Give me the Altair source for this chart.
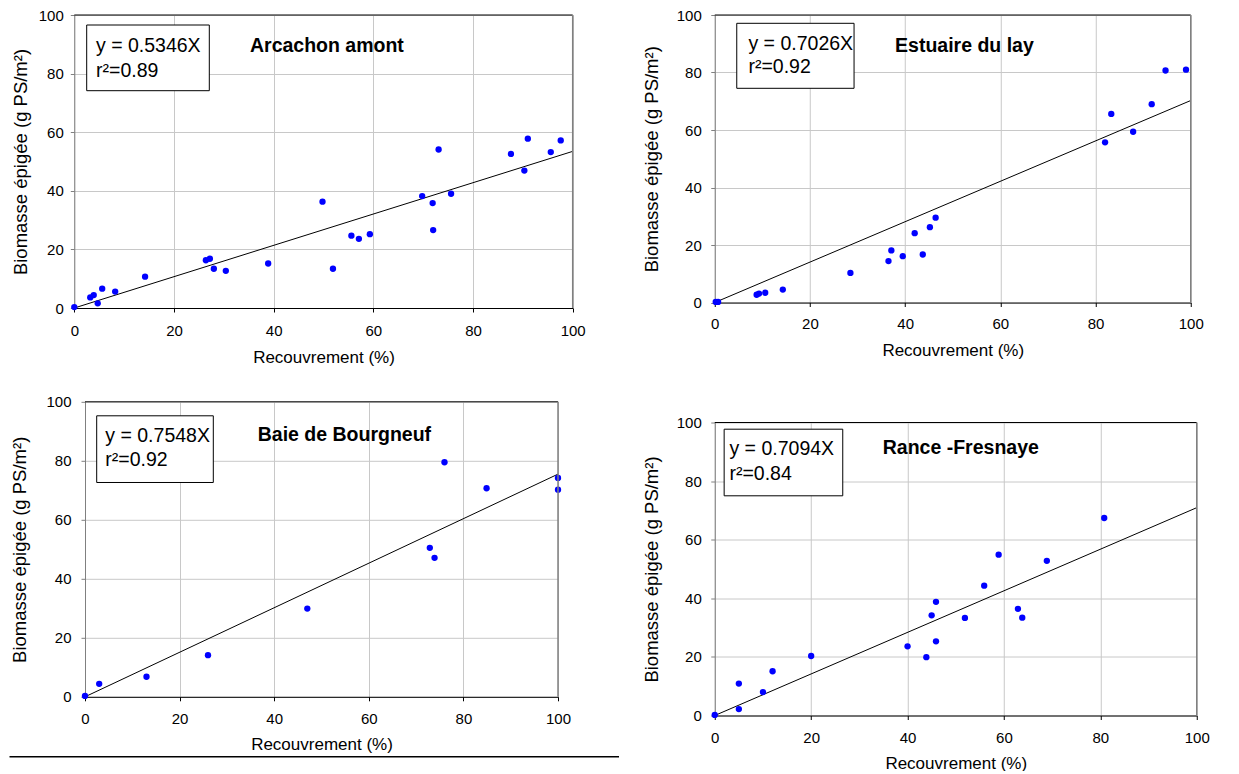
import altair as alt
import pandas as pd

FONT = "Liberation Sans"

# ---------------- data ----------------
arc_x = [0, 3.2, 3.9, 4.7, 5.6, 8.2, 14.2, 26.4, 27.2, 28.0, 30.4, 38.9, 49.8, 51.9, 55.6,
         57.1, 59.3, 69.8, 71.9, 72.0, 73.1, 75.6, 87.6, 90.3, 91.0, 95.6, 97.6]
arc_y = [0.3, 3.6, 4.4, 1.6, 6.6, 5.6, 10.7, 16.3, 16.8, 13.4, 12.7, 15.2, 36.3, 13.4, 24.7,
         23.6, 25.2, 38.2, 35.8, 26.6, 54.1, 39.0, 52.6, 46.9, 57.8, 53.2, 57.2]

lay_x = [0.2, 0.7, 8.8, 9.3, 10.6, 14.3, 28.5, 36.5, 37.1, 39.5, 42.0, 43.7, 45.2, 46.4,
         82.0, 83.3, 87.9, 91.8, 94.7, 99.0]
lay_y = [0.2, 0.2, 2.7, 3.1, 3.4, 4.5, 10.3, 14.4, 18.1, 16.1, 24.1, 16.7, 26.2, 29.5,
         55.7, 65.6, 59.4, 69.0, 80.7, 81.0]

bou_x = [0, 3.0, 13.0, 26.0, 47.0, 72.9, 73.9, 76.0, 84.9, 100, 100]
bou_y = [0.3, 4.4, 6.8, 14.1, 29.9, 50.5, 47.1, 79.5, 70.7, 74.2, 70.2]

ran_x = [0, 5.0, 5.0, 10.0, 12.0, 20.0, 40.0, 43.9, 45.0, 45.9, 45.9, 51.9, 55.9, 58.9,
         62.9, 63.8, 68.9, 80.8]
ran_y = [0.2, 10.9, 2.2, 8.0, 15.1, 20.3, 23.6, 19.9, 34.2, 38.8, 25.3, 33.3, 44.3, 54.9,
         36.4, 33.4, 52.8, 67.4]

names = ["Arcachon amont", "Estuaire du lay", "Baie de Bourgneuf", "Rance -Fresnaye"]
slopes = [0.5346, 0.7026, 0.7548, 0.7094]
r2s = ["0.89", "0.92", "0.92", "0.84"]
ticks = [0, 20, 40, 60, 80, 100]
fit_x = [0, 100]

# ---------------- layout (pixels, relative to each plot area) ----------------
layout = [
    dict(dx=-10.7, w=498.4, h=293, ylp=7, ytp=8, xlp=11.5, xtp=11,
         box=(12.4, 10, 135, 75.7), eqx=21.7, eqy=(37, 61.7), tx=175.7, ty=36.7),
    dict(dx=0, w=476, h=287.5, ylp=9.5, ytp=14.5, xlp=10, xtp=11,
         box=(22, 8.3, 139.3, 73.3), eqx=33.7, eqy=(35, 57.7), tx=180.3, ty=36.7),
    dict(dx=0, w=473, h=295, ylp=10, ytp=16, xlp=10.5, xtp=10.5,
         box=(11.7, 14, 128.3, 80.7), eqx=20.3, eqy=(40, 64), tx=172.7, ty=39.4),
    dict(dx=0, w=482, h=293, ylp=9.5, ytp=14.5, xlp=11, xtp=9.5,
         box=(9.4, 6.7, 128, 73.3), eqx=14.7, eqy=(32.7, 57.7), tx=168, ty=31),
]

one = pd.DataFrame({"k": [0]})


def panel(i, xs, ys, sep=False):
    L = layout[i]
    dx, w, h = L["dx"], L["w"], L["h"]
    df = pd.DataFrame({"x": xs, "y": ys})
    fit = pd.DataFrame({"x": fit_x})
    xs_ = alt.Scale(domain=[0, 100], nice=False, range=[dx, dx + w])
    ys_ = alt.Scale(domain=[0, 100], nice=False)
    xaxis = alt.Axis(values=ticks, title="Recouvrement (%)", grid=True,
                     gridColor="#c8c8c8", gridWidth=1, domainColor="black",
                     tickColor="black", tickSize=4, labelPadding=L["xlp"],
                     titlePadding=L["xtp"], labelFontSize=15, titleFontSize=17,
                     titleFontWeight="normal", labelFont=FONT, titleFont=FONT,
                     labelColor="black", titleColor="black", labelFlush=False)
    yaxis = alt.Axis(values=ticks, title="Biomasse épigée (g PS/m²)", grid=True,
                     gridColor="#c8c8c8", gridWidth=1, domainColor="#808080",
                     tickColor="#808080", tickSize=4, labelPadding=L["ylp"],
                     titlePadding=L["ytp"], labelFontSize=15, titleFontSize=18.5,
                     titleFontWeight="normal", labelFont=FONT, titleFont=FONT,
                     labelColor="black", titleColor="black", labelFlush=False,
                     offset=-dx)

    pts = alt.Chart(df).mark_circle(size=40, color="#0000FF", opacity=1).encode(
        x=alt.X("x:Q", scale=xs_, axis=xaxis),
        y=alt.Y("y:Q", scale=ys_, axis=yaxis),
    )
    line = alt.Chart(fit).transform_calculate(
        yy=f"datum.x * {slopes[i]}"
    ).mark_line(color="black", strokeWidth=1).encode(
        x=alt.X("x:Q", scale=xs_),
        y=alt.Y("yy:Q", scale=ys_),
    )
    x0, y0, x1, y1 = L["box"]
    box = alt.Chart(one).mark_rect(fill="white", stroke="black", strokeWidth=1).encode(
        x=alt.value(dx + x0), x2=alt.value(dx + x1), y=alt.value(y0), y2=alt.value(y1))
    eq = alt.Chart(one).mark_text(align="left", baseline="alphabetic", fontSize=19.5,
                                  font=FONT, color="black").encode(
        x=alt.value(dx + L["eqx"]), y=alt.value(L["eqy"][0]),
        text=alt.value(f"y = {slopes[i]:.4f}X"))
    r2 = alt.Chart(one).mark_text(align="left", baseline="alphabetic", fontSize=19.5,
                                  font=FONT, color="black").encode(
        x=alt.value(dx + L["eqx"]), y=alt.value(L["eqy"][1]),
        text=alt.value(f"r²={r2s[i]}"))
    title = alt.Chart(one).mark_text(align="left", baseline="alphabetic", fontSize=19.5,
                                     fontWeight="bold", font=FONT, color="black").encode(
        x=alt.value(dx + L["tx"]), y=alt.value(L["ty"]), text=alt.value(names[i]))
    top = alt.Chart(one).mark_rule(color="black", strokeWidth=1).encode(
        x=alt.value(dx), x2=alt.value(dx + w), y=alt.value(0))
    right = alt.Chart(one).mark_rule(color="#808080", strokeWidth=1.5).encode(
        x=alt.value(dx + w), y=alt.value(0), y2=alt.value(h))
    layers = [line, pts, box, eq, r2, title, top, right]
    if sep:
        layers.append(alt.Chart(one).mark_rule(color="black", strokeWidth=1.5).encode(
            x=alt.value(-75.5), x2=alt.value(534), y=alt.value(355)))
    return alt.layer(*layers).properties(width=dx + w, height=h)


p1 = panel(0, arc_x, arc_y)
p2 = panel(1, lay_x, lay_y)
p3 = panel(2, bou_x, bou_y, sep=True)
p4 = panel(3, ran_x, ran_y)

col1 = alt.vconcat(p1, p3, spacing=28.8)
col2 = alt.vconcat(p2, p4, spacing=56.5)

chart = alt.hconcat(col1, col2, spacing=21.75).properties(
    padding={"left": 0, "top": 0, "right": 0, "bottom": 0},
    background="white",
).configure_view(stroke=None)

chart.save("out.html", embed_options={"renderer": "svg", "actions": False})
